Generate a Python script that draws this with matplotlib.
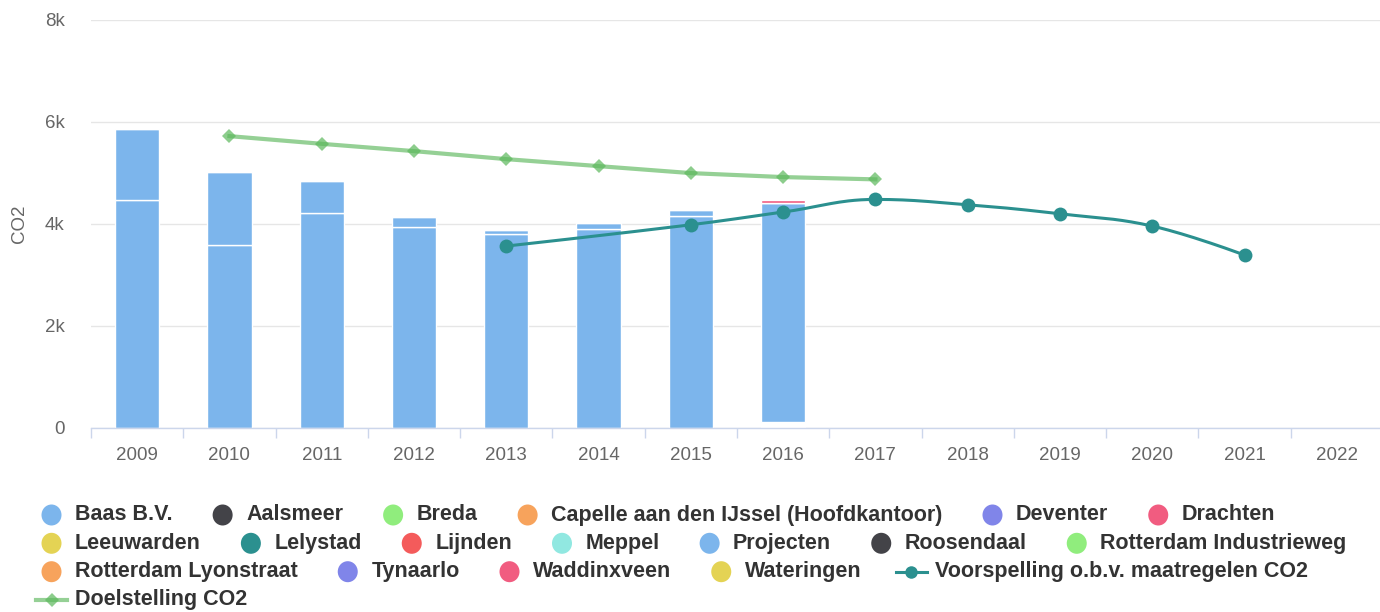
import numpy as np
import matplotlib
matplotlib.use('Agg')
from matplotlib import pyplot as plt
from matplotlib.patches import Ellipse

# Data
years = ['2009', '2010', '2011', '2012', '2013', '2014', '2015', '2016',
         '2017', '2018', '2019', '2020', '2021', '2022']

leeg      = [0, 0, 0, 0, 0, 0, 0, 123, 0, 0, 0, 0, 0, 0]            # white base in 2016
projecten = [4470, 3593, 4220, 3940, 3796, 3900, 4155, 4287, 0, 0, 0, 0, 0, 0]
baas      = [1390, 1420, 615, 190, 85, 124, 112, 0, 0, 0, 0, 0, 0, 0]
drachten  = [0, 0, 0, 0, 0, 0, 0, 70, 0, 0, 0, 0, 0, 0]

voorspelling_jaren = ['2013', '2015', '2016', '2017', '2018', '2019', '2020', '2021']
voorspelling       = [3567, 3985, 4234, 4482, 4377, 4200, 3959, 3391]

doel_jaren = ['2010', '2011', '2012', '2013', '2014', '2015', '2016', '2017']
doel       = [5723, 5572, 5429, 5272, 5135, 4998, 4920, 4875]

legend_names = ['Baas B.V.', 'Aalsmeer', 'Breda', 'Capelle aan den IJssel (Hoofdkantoor)',
                'Deventer', 'Drachten', 'Leeuwarden', 'Lelystad', 'Lijnden', 'Meppel',
                'Projecten', 'Roosendaal', 'Rotterdam Industrieweg', 'Rotterdam Lyonstraat',
                'Tynaarlo', 'Waddinxveen', 'Wateringen', 'Voorspelling o.b.v. maatregelen CO2',
                'Doelstelling CO2']
legend_colors = ['#7cb5ec', '#434348', '#90ed7d', '#f7a35c', '#8085e9', '#f15c80',
                 '#e4d354', '#2b908f', '#f45b5b', '#91e8e1', '#7cb5ec', '#434348',
                 '#90ed7d', '#f7a35c', '#8085e9', '#f15c80', '#e4d354', '#2b908f', '#5cb85c']
legend_rows = [6, 7, 5, 1]   # items per legend row

BAR = '#7cb5ec'
TEAL = '#2b908f'
GREEN = '#5cb85c'
FONT = 'Liberation Sans'


def hc_spline(xs, ys, n=30):
    # Highcharts-like spline (smoothing 1.5)
    m = len(xs)
    lc = [(xs[i], ys[i]) for i in range(m)]
    rc = [(xs[i], ys[i]) for i in range(m)]
    for i in range(1, m - 1):
        lx, ly = xs[i - 1], ys[i - 1]
        px, py = xs[i], ys[i]
        nx, ny = xs[i + 1], ys[i + 1]
        lcx = (1.5 * px + lx) / 2.5
        lcy = (1.5 * py + ly) / 2.5
        rcx = (1.5 * px + nx) / 2.5
        rcy = (1.5 * py + ny) / 2.5
        if rcx != lcx:
            corr = ((rcy - lcy) * (rcx - px)) / (rcx - lcx) + py - rcy
            lcy += corr
            rcy += corr
        if lcy > ly and lcy > py:
            lcy = max(ly, py); rcy = 2 * py - lcy
        elif lcy < ly and lcy < py:
            lcy = min(ly, py); rcy = 2 * py - lcy
        if rcy > ny and rcy > py:
            rcy = max(ny, py); lcy = 2 * py - rcy
        elif rcy < ny and rcy < py:
            rcy = min(ny, py); lcy = 2 * py - rcy
        lc[i] = (lcx, lcy)
        rc[i] = (rcx, rcy)
    outx, outy = [xs[0]], [ys[0]]
    t = np.linspace(0, 1, n)[1:]
    for i in range(1, m):
        p0 = np.array([xs[i - 1], ys[i - 1]])
        p1 = np.array(rc[i - 1])
        p2 = np.array(lc[i])
        p3 = np.array([xs[i], ys[i]])
        for tt in t:
            p = (1 - tt) ** 3 * p0 + 3 * (1 - tt) ** 2 * tt * p1 + 3 * (1 - tt) * tt ** 2 * p2 + tt ** 3 * p3
            outx.append(p[0]); outy.append(p[1])
    return outx, outy


W, H = 1380, 612
fig = plt.figure(figsize=(W / 100, H / 100), dpi=100)
ax = fig.add_axes([91 / W, 1 - 428 / H, (1383 - 91) / W, 408 / H])

x = np.arange(len(years))
bottom = np.zeros(len(years))
for vals, col in [(leeg, 'white'), (projecten, BAR), (baas, BAR), (drachten, '#f15c80')]:
    ax.bar(x, vals, width=0.48, bottom=bottom, color=col, edgecolor='white', linewidth=1.0, zorder=2)
    bottom += np.array(vals)

vx = [years.index(y) for y in voorspelling_jaren]
sx, sy = hc_spline(vx, voorspelling)
ax.plot(sx, sy, color=TEAL, linewidth=2.2, zorder=4, solid_capstyle='round')
ax.plot(vx, voorspelling, 'o', color=TEAL, markersize=10, markeredgewidth=0, zorder=5)

dx = [years.index(y) for y in doel_jaren]
ax.plot(dx, doel, color=GREEN, alpha=0.65, linewidth=3, zorder=3)
ax.plot(dx, doel, 'D', color=GREEN, alpha=0.7, markersize=7.5, markeredgewidth=0, zorder=3)

ax.set_xlim(-0.5, len(years) - 0.5)
ax.set_ylim(0, 8000)
ax.set_yticks([0, 2000, 4000, 6000, 8000])
ax.set_yticklabels(['0', '2k', '4k', '6k', '8k'])
ax.set_xticks(x)
ax.set_xticklabels(years)
ax.set_xticks(np.arange(-0.5, len(years), 1), minor=True)
ax.grid(axis='y', color='#e6e6e6', linewidth=1, zorder=0)
ax.set_axisbelow(True)
for s in ['top', 'right', 'left']:
    ax.spines[s].set_visible(False)
ax.spines['bottom'].set_color('#ccd6eb')
ax.spines['bottom'].set_linewidth(1)
ax.tick_params(axis='x', which='major', length=0, pad=14, labelsize=13.5, labelcolor='#666666')
ax.tick_params(axis='x', which='minor', length=7.5, width=1, color='#ccd6eb')
ax.tick_params(axis='y', length=0, pad=19, labelsize=13.5, labelcolor='#666666')
for lab in ax.get_xticklabels() + ax.get_yticklabels():
    lab.set_fontfamily(FONT)
ax.set_ylabel('CO2', fontsize=13.5, color='#666666', family=FONT, labelpad=12)

# legend, flow layout in pixel coordinates
lax = fig.add_axes([0, 0, 1, 1], zorder=10)
lax.set_xlim(0, W)
lax.set_ylim(H, 0)
lax.axis('off')
renderer = fig.canvas.get_renderer()
row_y = [515, 543.3, 571.7, 600]
idx = 0
for r, count in enumerate(legend_rows):
    cx = 51.5          # centre of symbol
    y = row_y[r]
    for k in range(count):
        name = legend_names[idx]
        col = legend_colors[idx]
        if name.startswith('Voorspelling'):
            lax.plot([cx - 15.5, cx + 15.5], [y, y], color=col, linewidth=2.2)
            lax.plot([cx], [y], 'o', color=col, markersize=9, markeredgewidth=0)
        elif name.startswith('Doelstelling'):
            lax.plot([cx - 15.5, cx + 15.5], [y, y], color=col, alpha=0.65, linewidth=3)
            lax.plot([cx], [y], 'D', color=col, alpha=0.7, markersize=7.5, markeredgewidth=0)
        else:
            lax.add_patch(Ellipse((cx, y), 20, 21, color=col, linewidth=0))
        t = lax.text(cx + 23.5, y, name, ha='left', va='center', fontsize=15.5,
                     fontweight='bold', color='#333333', family=FONT)
        tw = t.get_window_extent(renderer).width
        cx = cx + 23.5 + tw + 50
        idx += 1

fig.savefig('out.png', dpi=100)
